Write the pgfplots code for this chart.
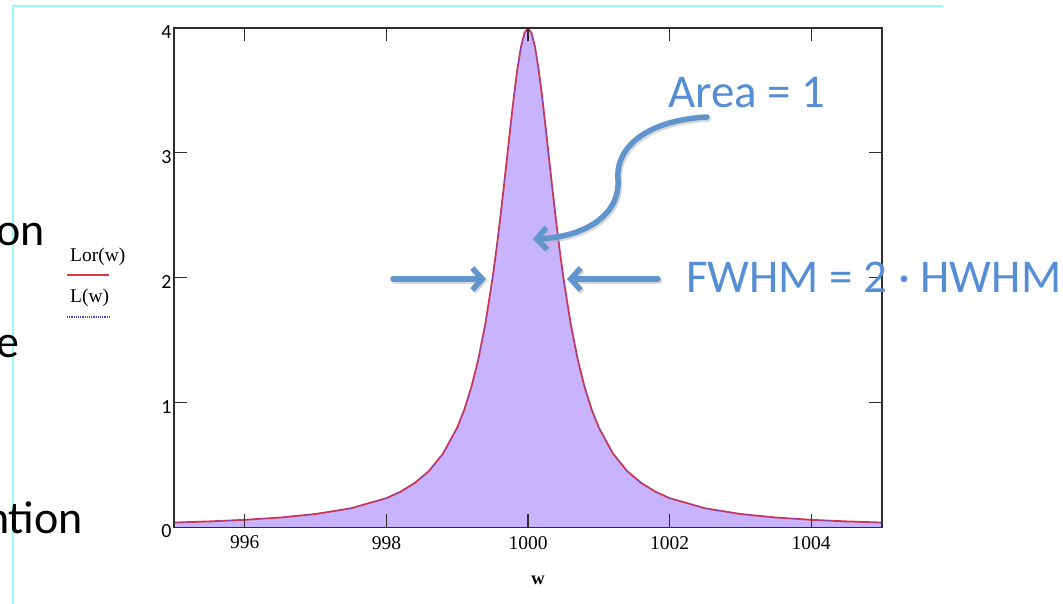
\documentclass[border=0pt]{standalone}
\usepackage{fontspec}
\setmainfont{Liberation Serif}
\newfontfamily\calibri{Carlito}
\usepackage{pgfplots}
\usepackage{pgfplotstable}
\pgfplotsset{compat=1.18}
\usetikzlibrary{arrows.meta}

\definecolor{fillviolet}{RGB}{200,180,254}
\definecolor{lorred}{RGB}{222,56,72}
\definecolor{ldotblue}{RGB}{70,70,235}
\definecolor{annot}{RGB}{85,142,213}
\definecolor{arrowblue}{RGB}{96,150,205}
\definecolor{framecyan}{RGB}{150,250,250}
\definecolor{axisgray}{RGB}{45,45,45}

% Lorentzian line shape, Lor(w) and L(w) coincide
\pgfplotstableread{
w      lor
995.0  0.0396
995.5  0.0488
996.0  0.0615
996.5  0.0800
997.0  0.1080
997.5  0.1540
998.0  0.2350
998.2  0.2870
998.4  0.3560
998.6  0.4520
998.8  0.5920
999.0  0.8000
999.1  0.9430
999.2  1.1240
999.3  1.3510
999.4  1.6390
999.5  2.0000
999.55 2.2100
999.6  2.4390
999.65 2.6850
999.7  2.9410
999.75 3.2000
999.8  3.4480
999.85 3.6700
999.9  3.8460
999.95 3.9600
1000.0 4.0000
1000.05 3.9600
1000.1 3.8460
1000.15 3.6700
1000.2 3.4480
1000.25 3.2000
1000.3 2.9410
1000.35 2.6850
1000.4 2.4390
1000.45 2.2100
1000.5 2.0000
1000.6 1.6390
1000.7 1.3510
1000.8 1.1240
1000.9 0.9430
1001.0 0.8000
1001.2 0.5920
1001.4 0.4520
1001.6 0.3560
1001.8 0.2870
1002.0 0.2350
1002.5 0.1540
1003.0 0.1080
1003.5 0.0800
1004.0 0.0615
1004.5 0.0488
1005.0 0.0396
}\lordata

\begin{document}
\begin{tikzpicture}[x=1pt,y=1pt]
\useasboundingbox (0,0) rectangle (1063,603);

% slide frame
\draw[framecyan, line width=1.2pt] (13,-2) -- (13,597) -- (943,597);

% body text running in from the left
\begin{scope}[every node/.style={anchor=base east, inner sep=0pt, font=\calibri\fontsize{46}{55}\selectfont}]
  \node at (45,357) {on};
  \node at (20,245) {e};
  \node at (83,70) {ntion};
\end{scope}

% legend-style y label
\node[anchor=base west, inner sep=0pt, font=\fontsize{19.5}{23}\selectfont] at (70,341) {Lor(w)};
\draw[lorred, line width=1.3pt] (67,328) -- (109,328);
\node[anchor=base west, inner sep=0pt, font=\fontsize{19.5}{23}\selectfont] at (70,300) {L(w)};
\draw[ldotblue, line width=1.2pt, densely dotted] (67,286) -- (110,286);

\begin{axis}[
  at={(174pt,75.5pt)}, anchor=south west,
  scale only axis, width=708pt, height=499.5pt,
  xmin=995, xmax=1005, ymin=0, ymax=4,
  xtick={996,998,1000,1002,1004}, ytick={0,1,2,3,4},
  tick align=inside, major tick length=13pt,
  axis line style={axisgray, line width=1.3pt},
  tick style={axisgray, line width=1.1pt},
  xticklabel style={font=\fontsize{19.5}{22}\selectfont, yshift=-5pt},
  yticklabel style={font=\calibri\fontsize{20}{22}\selectfont, yshift=-4pt, xshift=1pt},
  /pgf/number format/assume math mode=true,
  /pgf/number format/1000 sep={},
  axis on top,
]
\addplot[fill=fillviolet, draw=none] table[x=w, y=lor] {\lordata} \closedcycle;
\addplot[lorred, line width=1.8pt] table[x=w, y=lor] {\lordata};
\addplot[ldotblue, line width=0.7pt, densely dotted] table[x=w, y=lor] {\lordata};
\end{axis}

% x label
\node[font=\bfseries\fontsize{18.5}{22}\selectfont] at (538,23) {w};

% annotation arrows with a soft shadow
\tikzset{annarrow/.style={line width=5.5pt, -{Straight Barb[length=10pt, width=22pt]}, line cap=round}}
\begin{scope}[shift={(1.5,-2)}, black!30, opacity=0.5]
  \draw[annarrow] (393,324) -- (486,324);
  \draw[annarrow] (658,324) -- (567,324);
  \draw[annarrow] (707,486) .. controls (650,483) and (615,458) .. (618,423)
                  .. controls (620,388) and (585,366) .. (533,364);
\end{scope}
\begin{scope}[arrowblue]
  \draw[annarrow] (393,324) -- (486,324);
  \draw[annarrow] (658,324) -- (567,324);
  \draw[annarrow] (707,486) .. controls (650,483) and (615,458) .. (618,423)
                  .. controls (620,388) and (585,366) .. (533,364);
\end{scope}

% annotation text
\node[anchor=base west, inner sep=0pt, text=annot, font=\calibri\fontsize{47}{56}\selectfont] at (668,495) {Area = 1};
\node[anchor=base west, inner sep=0pt, text=annot, font=\calibri\fontsize{47}{56}\selectfont] at (686,310) {FWHM = 2 · HWHM};
\end{tikzpicture}
\end{document}
